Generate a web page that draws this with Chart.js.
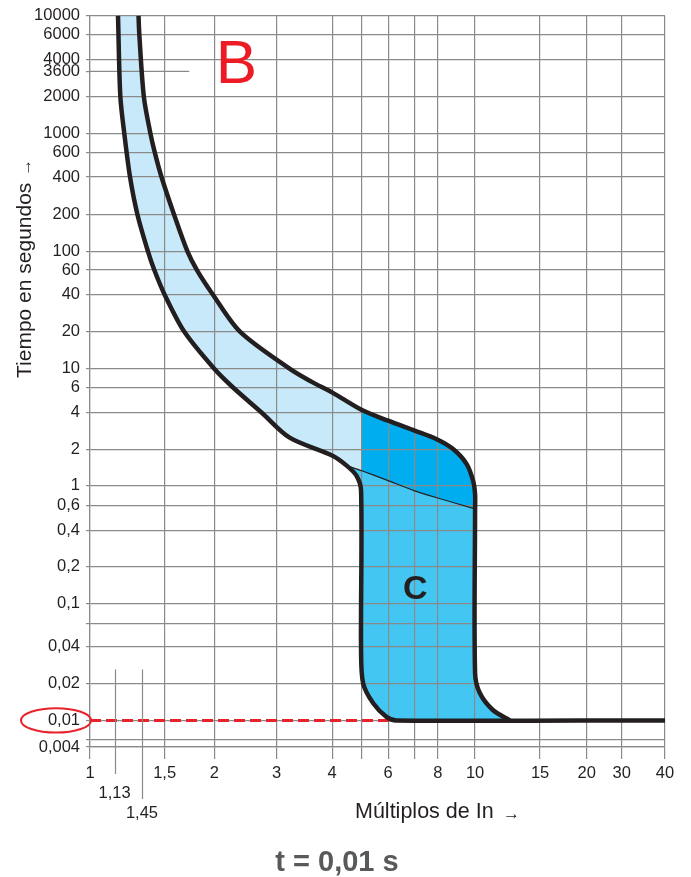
<!DOCTYPE html>
<html>
<head>
<meta charset="utf-8">
<script src="https://cdn.jsdelivr.net/npm/chart.js@4.4.1/dist/chart.umd.min.js"></script>
<style>
  html, body { margin: 0; background: #fff; }
  #wrap { width: 691px; height: 877px; position: relative; }
</style>
</head>
<body>
<div id="wrap"><canvas id="curve"></canvas></div>
<script>
// =============================================================================
// DATA
// =============================================================================
// x axis: multiples of In
const xTickVals = [1, 1.13, 1.45, 1.5, 2, 3, 4, 5, 6, 7, 8, 10, 15, 20, 30, 40];
const xTickText = ["1", ["", "1,13"], ["", "", "1,45"], "1,5", "2", "3", "4", "", "6", "", "8", "10", "15", "20", "30", "40"];

// y axis: seconds
const yTickVals = [0.004, 0.006, 0.01, 0.02, 0.04, 0.06, 0.1, 0.2, 0.4, 0.6, 1, 2, 4, 6, 10, 20, 40, 60, 100, 200, 400, 600, 1000, 2000, 3600, 4000, 6000, 10000];
const yTickText = ["0,004", "", "0,01", "0,02", "0,04", "", "0,1", "0,2", "0,4", "0,6", "1", "2", "4", "6", "10", "20", "40", "60", "100", "200", "400", "600", "1000", "2000", "3600", "4000", "6000", "10000"];

// B band, lower (left) edge
const bLowX = [1.165, 1.19, 1.234, 1.30, 1.39, 1.463, 1.477, 1.5, 1.68, 2.0, 2.26, 2.72, 3.21, 4.01, 4.46];
const bLowT = [10000, 2000, 1000, 400, 200, 100, 60, 40, 20, 10, 6, 4, 2.5, 1.78, 1.47];

// upper (right) edge, up to 5 In
const upX = [1.405, 1.415, 1.454, 1.4685, 1.478, 1.493, 1.583, 1.712, 1.809, 1.985, 2.364, 3.214, 3.60, 4.02, 5];
const upT = [10000, 6000, 2000, 1000, 600, 400, 200, 100, 60, 40, 20, 10, 7.0, 5.5, 4.16];

// upper edge of C, from 5 In round the knee down to 0,01 s
const cUpX = [5, 6, 7.02, 7.93, 8.75, 9.5, 9.88, 10, 10, 10, 10.3, 11.17, 12.42];
const cUpT = [4.16, 3.43, 2.85, 2.44, 2.03, 1.52, 1.10, 0.80, 0.566, 0.0243, 0.0167, 0.01215, 0.01];

// lower (left) edge of C
const cLowX = [4.80, 4.97, 4.97, 5.045, 5.41, 5.93, 6.30];
const cLowT = [1.21, 0.878, 0.0373, 0.02, 0.0138, 0.01068, 0.01];

// thin line: B lower edge carried across the C zone
const bTailX = [4.46, 5, 6, 7, 8, 10];
const bTailT = [1.47, 1.33, 1.10, 0.878, 0.723, 0.566];

// 0,01 s trip line and the 3600 s mark
const tripT = 0.01;
const tripEndX = 40;
const dashEndX = 6.3;
const markT = 3600;
const markEndX = 1.73;

// =============================================================================
// STYLE
// =============================================================================
const FONT = '"Liberation Sans", Arial, Helvetica, sans-serif';
const INK = "#231f20";
const GRID = "#8a8a8a";
const NONE = "rgba(0,0,0,0)";
const LIGHT = "#c7e9f9";
const MID = "#43c6f2";
const DARK = "#00aeef";
const RED = "#e8232b";

// printed grid: where each tick sits, as a fraction of the axis length
const xTickPos = [0, .0429, .0904, .1298, .2161, .3245, .4212, .4728, .5185, .5637, .6049, .6697, .7827, .8639, .9247, 1];
const yTickPos = [0, .0105, .0364, .0869, .1374, .1692, .1965, .2474, .2966, .3307, .3576, .4067, .4576, .4917, .5173, .5682, .6187, .6524, .6779, .7288, .7797, .8134, .8390, .8899, .9240, .9408, .9749, 1];

const sheetAxes = {
  x: { values: xTickVals, pos: xTickPos },
  y: { values: yTickVals, pos: yTickPos }
};

// =============================================================================
// SCALE — log between printed ticks, ticks where the sheet has them
// =============================================================================
class SheetScale extends Chart.Scale {
  static id = "sheet";
  static defaults = {};

  determineDataLimits() {
    const v = sheetAxes[this.axis].values;
    this.min = v[0];
    this.max = v[v.length - 1];
  }

  buildTicks() {
    return sheetAxes[this.axis].values.map(value => ({ value }));
  }

  getLabelForValue(value) {
    return String(value).replace(".", ",");
  }

  getPixelForValue(value) {
    const { values: v, pos: d } = sheetAxes[this.axis];
    let i = 0;
    while (i < v.length - 2 && value > v[i + 1]) i++;
    const f = Math.log(value / v[i]) / Math.log(v[i + 1] / v[i]);
    return this.getPixelForDecimal(d[i] + f * (d[i + 1] - d[i]));
  }

  getValueForPixel(pixel) {
    const { values: v, pos: d } = sheetAxes[this.axis];
    const dec = this.getDecimalForPixel(pixel);
    let i = 0;
    while (i < d.length - 2 && dec > d[i + 1]) i++;
    const f = (dec - d[i]) / (d[i + 1] - d[i]);
    return v[i] * Math.pow(v[i + 1] / v[i], f);
  }

  getPixelForTick(index) {
    return this.getPixelForValue(this.ticks[index].value);
  }
}

Chart.register(SheetScale);

// =============================================================================
// HELPERS
// =============================================================================
function pts(xs, ts) {
  return xs.map((x, i) => ({ x, y: ts[i] }));
}

function curve(data, width) {
  return {
    data,
    borderColor: INK,
    borderWidth: width,
    borderJoinStyle: "round",
    pointRadius: 0,
    fill: false,
    tension: 0.3,
    order: 1
  };
}

function area(data, color) {
  return {
    data,
    borderWidth: 0,
    pointRadius: 0,
    backgroundColor: color,
    fill: "shape",
    tension: 0,
    order: 10
  };
}

// =============================================================================
// ANNOTATIONS — letters, red ring, long ticks, axis titles, caption
// =============================================================================
const sheetNotes = {
  id: "sheetNotes",
  afterDatasetsDraw(chart) {
    const { ctx, scales: { x, y } } = chart;
    ctx.save();
    ctx.textAlign = "center";
    ctx.textBaseline = "alphabetic";

    ctx.fillStyle = "#ed1c24";
    ctx.font = `62px ${FONT}`;
    ctx.fillText("B", x.getPixelForValue(2.31), y.getPixelForValue(2750));

    ctx.fillStyle = INK;
    ctx.font = `bold 34px ${FONT}`;
    ctx.fillText("C", x.getPixelForValue(7.05), y.getPixelForValue(0.109));
    ctx.restore();
  },
  afterDraw(chart) {
    const { ctx, chartArea: a, scales: { x, y } } = chart;
    ctx.save();

    // red ring round the 0,01 label
    ctx.strokeStyle = RED;
    ctx.lineWidth = 2;
    ctx.beginPath();
    ctx.ellipse(a.left - 34, y.getPixelForValue(tripT), 35, 12.2, 0, 0, Math.PI * 2);
    ctx.stroke();

    // long ticks at 1,13 and 1,45
    ctx.strokeStyle = GRID;
    ctx.lineWidth = 1.2;
    [[1.13, 27], [1.45, 52]].forEach(([v, drop]) => {
      const px = Math.round(x.getPixelForValue(v)) + 0.5;
      ctx.beginPath();
      ctx.moveTo(px, y.getPixelForValue(0.026));
      ctx.lineTo(px, a.bottom + drop);
      ctx.stroke();
    });

    // axis titles
    ctx.fillStyle = INK;
    ctx.textBaseline = "alphabetic";
    ctx.textAlign = "left";
    ctx.font = `21.5px ${FONT}`;
    ctx.fillText("Múltiplos de In", 355, 818);
    ctx.font = `17px ${FONT}`;
    ctx.fillText("→", 503, 819);

    ctx.save();
    ctx.translate(31, 378);
    ctx.rotate(-Math.PI / 2);
    ctx.font = `21px ${FONT}`;
    ctx.fillText("Tiempo en segundos", 0, 0);
    const w = ctx.measureText("Tiempo en segundos").width;
    ctx.font = `17px ${FONT}`;
    ctx.fillText("→", w + 7, 0);
    ctx.restore();

    // caption
    ctx.fillStyle = "#58595b";
    ctx.textAlign = "center";
    ctx.font = `bold 29px ${FONT}`;
    ctx.fillText("t = 0,01 s", 337, 871);

    ctx.restore();
  }
};

// =============================================================================
// CHART
// =============================================================================
function renderCurve() {
  const light = pts(upX, upT).concat([{ x: bTailX[1], y: bTailT[1] }], pts(bLowX, bLowT).reverse());
  const dark = pts(cUpX.slice(0, 9), cUpT.slice(0, 9))
    .concat(pts(bTailX.slice(1, -1), bTailT.slice(1, -1)).reverse());
  const mid = pts(bTailX, bTailT)
    .concat(pts(cUpX.slice(9), cUpT.slice(9)), pts(cLowX, cLowT).reverse());

  const leftEdge = pts(bLowX, bLowT).concat(pts(cLowX, cLowT), [{ x: tripEndX, y: tripT }]);
  const rightEdge = pts(upX, upT).concat(pts(cUpX.slice(1), cUpT.slice(1)));

  const tickFont = { size: 16.5, family: FONT, lineHeight: 1.2 };

  new Chart(document.getElementById("curve"), {
    type: "line",
    data: {
      datasets: [
        curve(leftEdge, 4.5),
        curve(rightEdge, 4.5),
        Object.assign(curve(pts(bTailX, bTailT), 1.2), { tension: 0.2 }),
        {
          data: [{ x: 1, y: tripT }, { x: dashEndX, y: tripT }],
          borderColor: RED,
          borderWidth: 3,
          borderDash: [11, 5],
          pointRadius: 0,
          fill: false,
          order: 2
        },
        {
          data: [{ x: 1, y: markT }, { x: markEndX, y: markT }],
          borderColor: GRID,
          borderWidth: 1.2,
          pointRadius: 0,
          fill: false,
          order: 3
        },
        area(light, LIGHT),
        area(dark, DARK),
        area(mid, MID)
      ]
    },
    options: {
      responsive: true,
      maintainAspectRatio: false,
      animation: false,
      devicePixelRatio: 1,
      events: [],
      layout: { padding: { top: 14, right: 26, left: 0, bottom: 0 } },
      plugins: {
        legend: { display: false },
        tooltip: { enabled: false },
        filler: { drawTime: "beforeDraw" }
      },
      scales: {
        x: {
          type: "sheet",
          position: "bottom",
          afterFit: s => { s.height = 130; },
          border: { display: true, color: GRID, width: 1.2 },
          grid: {
            color: c => (c.tick && (c.tick.value === 1.13 || c.tick.value === 1.45)) ? NONE : GRID,
            tickColor: c => (c.tick && (c.tick.value === 1.13 || c.tick.value === 1.45)) ? NONE : GRID,
            lineWidth: 1.2,
            tickLength: 12
          },
          ticks: {
            autoSkip: false,
            maxRotation: 0,
            padding: 5,
            color: INK,
            font: tickFont,
            callback: (v, i) => xTickText[i]
          }
        },
        y: {
          type: "sheet",
          position: "left",
          afterFit: s => { s.width = 90; },
          border: { display: true, color: GRID, width: 1.2 },
          grid: {
            color: c => (c.tick && c.tick.value === markT) ? NONE : GRID,
            tickColor: GRID,
            lineWidth: 1.2,
            tickLength: 4
          },
          ticks: {
            autoSkip: false,
            padding: 6,
            color: INK,
            font: { size: 16.5, family: FONT },
            callback: (v, i) => yTickText[i]
          }
        }
      }
    },
    plugins: [sheetNotes]
  });
}

document.addEventListener("DOMContentLoaded", renderCurve);
</script>
</body>
</html>
